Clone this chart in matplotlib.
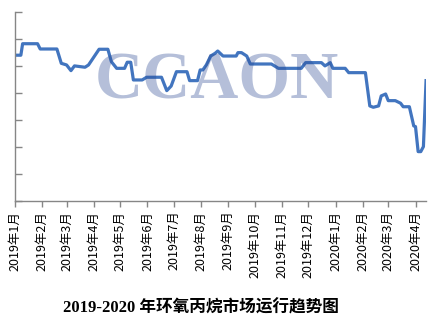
import numpy as np
import pandas as pd
import matplotlib
matplotlib.use("Agg")
import matplotlib.pyplot as plt

# price series (axis has no labels)
dates = ["2019-01-01", "2019-01-08", "2019-01-10", "2019-01-27", "2019-01-30",
         "2019-02-18", "2019-02-23", "2019-03-01", "2019-03-06", "2019-03-10",
         "2019-03-22", "2019-03-26", "2019-04-07", "2019-04-17", "2019-04-21",
         "2019-04-27", "2019-05-06", "2019-05-09", "2019-05-13", "2019-05-16",
         "2019-05-26", "2019-05-31", "2019-06-17", "2019-06-23", "2019-06-28",
         "2019-07-04", "2019-07-16", "2019-07-19", "2019-07-28", "2019-07-31",
         "2019-08-03", "2019-08-07", "2019-08-12", "2019-08-17", "2019-08-20",
         "2019-08-26", "2019-09-10", "2019-09-12", "2019-09-16", "2019-09-22",
         "2019-09-26", "2019-10-20", "2019-10-28", "2019-11-23", "2019-11-28",
         "2019-12-16", "2019-12-20", "2019-12-26", "2019-12-29", "2020-01-12",
         "2020-01-16", "2020-02-04", "2020-02-09", "2020-02-13", "2020-02-19",
         "2020-02-22", "2020-02-27", "2020-03-01", "2020-03-09", "2020-03-15",
         "2020-03-18", "2020-03-25", "2020-03-30", "2020-04-01", "2020-04-04",
         "2020-04-07", "2020-04-10", "2020-04-13"]
prices = [10780, 10780, 11630, 11630, 11240,
          11240, 10180, 10060, 9640, 9990,
          9890, 10060, 11220, 11220, 10300,
          9810, 9810, 10260, 10260, 8950,
          8950, 9150, 9150, 8160, 8500,
          9560, 9560, 8900, 8900, 9690,
          9690, 10060, 10720, 10920, 11090,
          10720, 10720, 10970, 10970, 10720,
          10130, 10130, 9810, 9810, 10230,
          10230, 9990, 10230, 9810, 9810,
          9490, 9490, 7030, 6930, 7030,
          7770, 7910, 7420, 7420, 7230,
          6970, 6970, 5550, 5500, 3650,
          3650, 4020, 8900]

tick_dates = ["2019-01-01", "2019-02-01", "2019-03-01", "2019-04-01",
              "2019-05-01", "2019-06-01", "2019-07-01", "2019-08-01",
              "2019-09-01", "2019-10-01", "2019-11-01", "2019-12-01",
              "2020-01-01", "2020-02-01", "2020-03-01", "2020-04-01"]
tick_labels = ["2019年1月", "2019年2月", "2019年3月", "2019年4月",
               "2019年5月", "2019年6月", "2019年7月", "2019年8月",
               "2019年9月", "2019年10月", "2019年11月", "2019年12月",
               "2020年1月", "2020年2月", "2020年3月", "2020年4月"]
y_ticks = [0, 2000, 4000, 6000, 8000, 10000, 12000, 14000]

title = "2019-2020 年环氧丙烷市场运行趋势图"
watermark = "CCAON"

x = pd.to_datetime(dates)
xt = pd.to_datetime(tick_dates)

fig = plt.figure(figsize=(4.39, 3.18), dpi=100)
ax = fig.add_axes([0.0335, 0.368, 0.937, 0.5953])

ax.plot(x, prices, color="#4275BF", lw=2.3, solid_joinstyle="round", zorder=2)

ax.set_xlim(x[0], x[-1])
ax.set_ylim(y_ticks[0], y_ticks[-1])
ax.set_yticks(y_ticks)
ax.set_yticklabels([])
ax.set_xticks(xt)
ax.set_xticklabels(tick_labels, rotation=90, fontsize=9,
                   family=["Noto Sans CJK SC", "DejaVu Sans"])

axis_col = "#868686"
for s in ["top", "right"]:
    ax.spines[s].set_visible(False)
for s in ["left", "bottom"]:
    ax.spines[s].set_color(axis_col)
    ax.spines[s].set_linewidth(1.0)
ax.tick_params(axis="y", direction="in", length=5, color=axis_col, width=1.0)
ax.tick_params(axis="x", direction="out", length=4, color=axis_col, width=1.0, pad=3)

# watermark over the plot
fig.text(0.495, 0.742, watermark, ha="center", va="center", fontsize=48,
         family="Liberation Serif", weight="bold", color="#2B4A94",
         alpha=0.35, zorder=5)

fig.text(0.457, 0.03, title, ha="center", va="center", fontsize=12,
         family=["Liberation Serif", "Noto Sans CJK SC"], weight="bold")

fig.savefig("out.png", dpi=100)
